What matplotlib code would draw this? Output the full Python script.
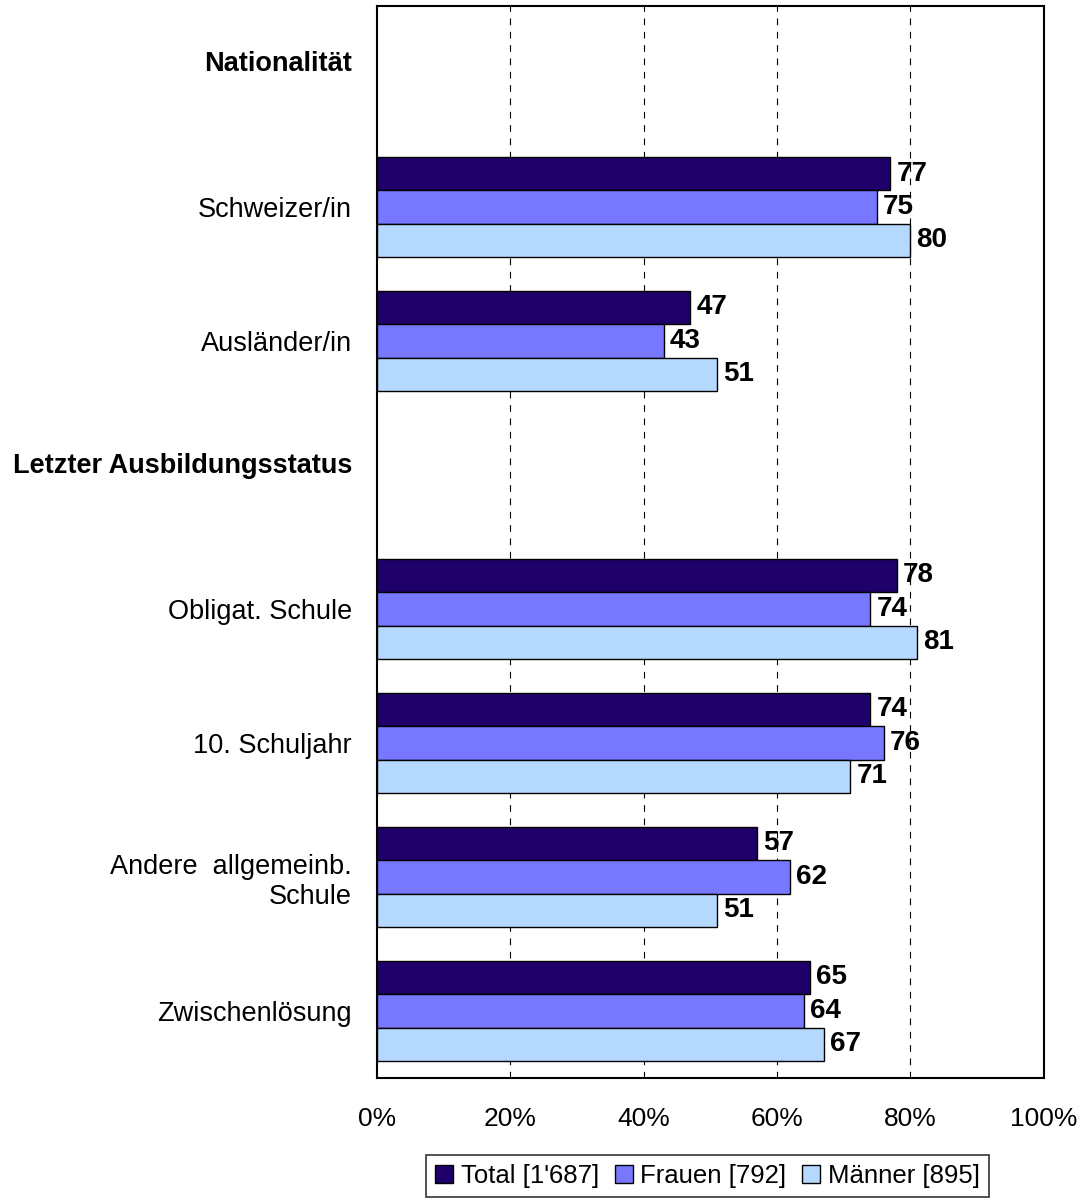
import numpy as np
import matplotlib.pyplot as plt
from matplotlib.patches import Patch

plt.rcParams['font.family'] = ['Liberation Sans', 'DejaVu Sans']

# Data (percent)
categories = ["Nationalität", "Schweizer/in", "Ausländer/in", "Letzter Ausbildungsstatus",
              "Obligat. Schule", "10. Schuljahr", "Andere  allgemeinb.\nSchule", "Zwischenlösung"]
headers = ["Nationalität", "Letzter Ausbildungsstatus"]
total = [None, 77, 47, None, 78, 74, 57, 65]
frauen = [None, 75, 43, None, 74, 76, 62, 64]
maenner = [None, 80, 51, None, 81, 71, 51, 67]
series_names = ["Total [1'687]", "Frauen [792]", "Männer [895]"]
colors = ["#1f006b", "#7777ff", "#b5d8ff"]
xticks = [0, 20, 40, 60, 80, 100]

fig = plt.figure(figsize=(10.85, 12.02), dpi=100)
ax = fig.add_axes([0.3475, 0.1032, 0.6145, 0.8918])

h = 0.25
pos = np.arange(len(categories))
for k, (vals, col) in enumerate(zip([total, frauen, maenner], colors)):
    for i, v in enumerate(vals):
        if v is None:
            continue
        y = pos[i] + (k - 1) * h
        ax.barh(y, v, height=h, color=col, edgecolor="black", linewidth=1.0, zorder=3)
        ax.text(v + 0.9, y, str(v), va="center", ha="left", fontsize=20,
                fontweight="bold", zorder=4)

ax.set_xlim(0, 100)
ax.set_ylim(len(categories) - 0.5, -0.5)
ax.set_xticks(xticks)
ax.set_xticklabels([f"{t}%" for t in xticks], fontsize=19)
ax.set_yticks(pos)
ax.set_yticklabels(categories, fontsize=19.5, multialignment="right")
ax.tick_params(axis="y", length=0, pad=18)
ax.tick_params(axis="x", length=0, pad=21)

# section headers sit slightly above their slot
for lab in ax.get_yticklabels():
    if lab.get_text() in headers:
        lab.set_visible(False)
        y = categories.index(lab.get_text()) - 0.07
        ax.text(-0.0375, y, lab.get_text(), transform=ax.get_yaxis_transform(),
                ha="right", va="center", fontsize=19.5, fontweight="bold")

for x in xticks[1:-1]:
    ax.axvline(x, color="black", linestyle=(0, (6, 6)), linewidth=0.8, zorder=1)
for s in ax.spines.values():
    s.set_linewidth(1.5)
    s.set_color("black")

handles = [Patch(facecolor=c, edgecolor="black", linewidth=1.0) for c in colors]
leg = fig.legend(handles, series_names, loc="center", bbox_to_anchor=(0.652, 0.0215),
                 ncol=3, fontsize=18.5, frameon=True, fancybox=False, edgecolor="black",
                 handlelength=0.7, handleheight=0.7, handletextpad=0.3, columnspacing=0.6,
                 borderpad=0.35, borderaxespad=0)
leg.get_frame().set_linewidth(1.2)

fig.savefig("out.png", dpi=100)
